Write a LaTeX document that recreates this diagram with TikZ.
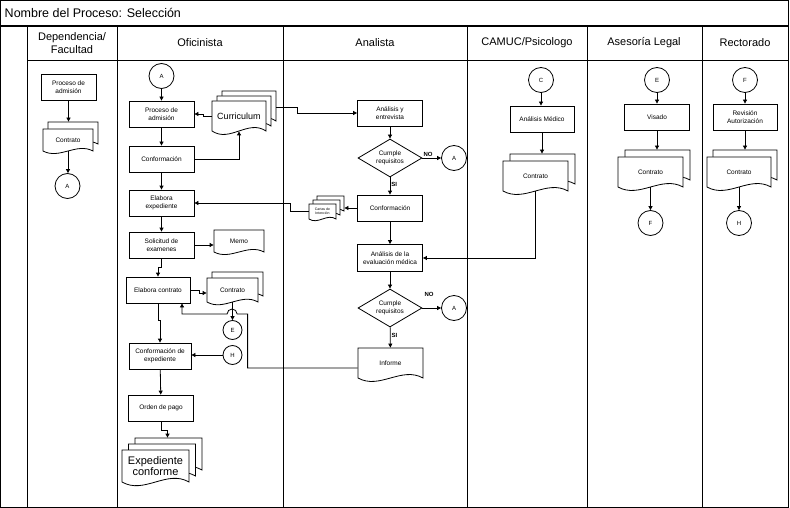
\documentclass[tikz,border=0pt]{standalone}
\usepackage{fontspec}
\setmainfont{Liberation Sans}
\usetikzlibrary{shapes.geometric, arrows.meta, calc, positioning}

% document symbol: left, top, width, height
\newcommand{\docshape}[4]{%
  \draw[fill=white] ({#1},{#2}) -- ({#1+#3},{#2}) -- ({#1+#3},{#2+#4})
    .. controls ({#1+0.67*#3},{#2+0.6*#4}) and ({#1+0.33*#3},{#2+1.4*#4}) .. ({#1},{#2+#4}) -- cycle;}

\begin{document}
\begin{tikzpicture}[x=1pt, y=-1pt, line width=0.8pt,
  box/.style={rectangle, draw, fill=white, minimum width=65pt, minimum height=26pt, inner sep=1pt, align=center, font=\fontsize{6.5}{7.5}\selectfont},
  dtext/.style={rectangle, inner sep=0pt, align=center, font=\fontsize{6.5}{7.5}\selectfont},
  conn/.style={circle, draw, fill=white, minimum size=25pt, inner sep=0pt, font=\fontsize{6}{7}\selectfont},
  dec/.style={diamond, draw, fill=white, aspect=1.7, inner sep=0.5pt, minimum width=64pt, minimum height=38pt, align=center, font=\fontsize{6.5}{7.5}\selectfont},
  lbl/.style={inner sep=1pt, font=\fontsize{6}{7}\selectfont\bfseries},
  head/.style={align=center, font=\fontsize{11}{13}\selectfont},
  arr/.style={-{Triangle[length=4pt,width=4pt]}}]
\useasboundingbox (0,0) rectangle (790,508);
%frame and lanes
\draw (0.5,0.5) rectangle (788,507);
\draw[line width=2pt] (0.5,26) -- (788,26);
\foreach \lx in {27,117,283,467,587,702} \draw (\lx,26) -- (\lx,507);
\draw (27,60) -- (788,60);
\node[anchor=west, font=\fontsize{12.5}{14}\selectfont] (title) at (1,13) {Nombre del Proceso: Selección};
\node[head] (hdep) at (72,43) {Dependencia/\\Facultad};
\node[head] (hofi) at (200,43) {Oficinista};
\node[head] (hana) at (375,43) {Analista};
\node[head] (hcam) at (527,43) {CAMUC/Psicologo};
\node[head] (hase) at (644,43) {Asesoría Legal};
\node[head] (hrec) at (745,43) {Rectorado};
%Dependencia
\node[box, minimum width=55pt] (adm0) at (68.5,87) {Proceso de\\admisión};
\foreach \k in {1,0} {\docshape{43+5*\k}{129-7*\k}{50}{22}}
\node[dtext, minimum width=50pt, minimum height=22pt] (ctr0) at (68,140) {Contrato};
\node[conn] (a0) at (67.5,186) {A};
%Oficinista
\node[conn] (a1) at (161.5,76) {A};
\node[box] (adm1) at (161.5,114) {Proceso de\\admisión};
\foreach \k in {2,1,0} {\docshape{212+5*\k}{101-5*\k}{54}{30}}
\node[dtext, minimum width=54pt, minimum height=30pt, font=\fontsize{9}{10}\selectfont] (cur) at (239,116) {Curriculum};
\node[box] (conf1) at (161.5,159) {Conformación};
\node[box] (elab) at (161.5,203) {Elabora\\expediente};
\node[box] (sol) at (161.5,245) {Solicitud de\\examenes};
\docshape{214}{230}{50}{22}
\node[dtext, minimum width=50pt, minimum height=22pt] (memo) at (239,241) {Memo};
\node[box, minimum width=64pt] (econ) at (158,290) {Elabora contrato};
\foreach \k in {1,0} {\docshape{207+5*\k}{278-6*\k}{51}{24}}
\node[dtext, minimum width=51pt, minimum height=24pt] (ctr1) at (232.5,290) {Contrato};
\node[conn, minimum size=19pt] (e1) at (232.5,330) {E};
\node[conn, minimum size=19pt] (h1) at (232.5,355) {H};
\node[box, minimum width=62pt] (cexp) at (160,356) {Conformación de\\expediente};
\node[box] (pago) at (161,408) {Orden de pago};
\foreach \k in {2,1,0} {\docshape{122+6.5*\k}{450-6*\k}{67}{32}}
\node[dtext, minimum width=67pt, minimum height=32pt, font=\fontsize{11}{11}\selectfont] (exped) at (155.5,466) {Expediente\\conforme};
%Analista
\node[box] (ae) at (390,113) {Análisis y\\entrevista};
\node[dec] (d1) at (390,158) {Cumple\\requisitos};
\node[conn] (a2) at (454,158) {A};
\node[box] (conf2) at (390,208) {Conformación};
\foreach \k in {2,1,0} {\docshape{309+4*\k}{204-4*\k}{27}{15}}
\node[dtext, minimum width=27pt, minimum height=15pt, font=\fontsize{3.5}{4}\selectfont] (cart) at (322.5,211.5) {Cartas de\\Intención};
\node[box, minimum height=27pt] (aem) at (390,258) {Análisis de la\\evaluación médica};
\node[dec] (d2) at (390,308) {Cumple\\requisitos};
\node[conn] (a3) at (454,308) {A};
\node[lbl] (no2) at (429,294) {NO};
\docshape{358}{348}{65}{30}
\node[dtext, minimum width=65pt, minimum height=30pt] (inf) at (390.5,363) {Informe};
%CAMUC
\node[conn] (c1) at (541,80) {C};
\node[box, minimum width=64pt] (am) at (542,119) {Análisis Médico};
\foreach \k in {1,0} {\docshape{503+7*\k}{161-7*\k}{65}{30}}
\node[dtext, minimum width=65pt, minimum height=30pt] (ctr2) at (535.5,176) {Contrato};
%Asesoria
\node[conn] (e2) at (657,80) {E};
\node[box] (vis) at (657,117) {Visado};
\foreach \k in {1,0} {\docshape{618+7*\k}{157-7*\k}{65}{30}}
\node[dtext, minimum width=65pt, minimum height=30pt] (ctr3) at (650.5,172) {Contrato};
\node[conn] (f1) at (650.5,223) {F};
%Rectorado
\node[conn] (f2) at (745,80) {F};
\node[box, minimum width=64pt] (rev) at (745,117) {Revisión\\Autorización};
\foreach \k in {1,0} {\docshape{707+6*\k}{157-7*\k}{64}{30}}
\node[dtext, minimum width=64pt, minimum height=30pt] (ctr4) at (739,172) {Contrato};
\node[conn] (h2) at (739,223) {H};
%connectors
\draw[arr] (adm0) -- ($(adm0.south |- ctr0.north)+(0,-7)$);
\draw[arr] (ctr0.south) -- (ctr0.south |- a0.north);
\draw[arr] (a1) -- (adm1);
\draw[arr] (cur.west) -- ++(-8,0) |- (adm1.east);
\draw[arr] (adm1) -- (conf1);
\draw[arr] (conf1.east) -| (cur.south);
\draw[arr] ([shift={(10pt,9pt)}]cur.east) -- ++(21,0) |- (ae.west);
\draw[arr] (conf1) -- (elab);
\draw[arr] (elab) -- (sol);
\draw[arr] (sol.east) -- (sol.east -| memo.west);
\draw[arr] (sol.south) -- ++(0,9) -| (econ.north);
\draw[arr] (econ.east) -- ++(9,0) |- ([yshift=-3pt]ctr1.west);
\draw[arr] (ctr1.south) -- (e1);
\draw[arr] (h1) -- (h1 -| cexp.east);
\draw[arr] (econ.south) -- ++(0,17) -| (cexp.north);
\draw[arr] ([yshift=-5pt]inf.west) -- ++(-110,0) -- ++(0,-54) -- ++(-10.5,0) arc[start angle=0, end angle=-180, radius=5] -| ([xshift=24pt]econ.south);
\draw[arr] (cexp) -- (pago);
\draw[arr] (pago.south) -- ++(0,9) -| ([shift={(12pt,12pt)}]exped.north);
\draw[arr] (ae) -- (d1);
\draw[arr] (d1) -- node[lbl, above, pos=0.3] (no1) {NO} (a2);
\draw[arr] (d1) -- node[lbl, right, pos=0.4] (si1) {SI} (conf2);
\draw[arr] (conf2) -- (aem);
\draw[arr] (conf2.west) -- ($(conf2.west -| cart.east)+(8,0)$);
\draw[arr] (cart.west) -- ++(-18,0) |- (elab.east);
\draw[arr] (ctr2.south) |- (aem.east);
\draw[arr] (aem) -- (d2);
\draw[arr] (d2) -- (a3);
\draw[arr] (d2) -- node[lbl, right, pos=0.4] (si2) {SI} (inf);
\draw[arr] (c1) -- (c1 |- am.north);
\draw[arr] (am.south) -- ($(am.south |- ctr2.north)+(0,-7)$);
\draw[arr] (e2) -- (vis);
\draw[arr] (vis.south) -- ($(vis.south |- ctr3.north)+(0,-7)$);
\draw[arr] (ctr3.south) -- (f1);
\draw[arr] (f2) -- (rev);
\draw[arr] (rev.south) -- ($(rev.south |- ctr4.north)+(0,-7)$);
\draw[arr] (ctr4.south) -- (h2);
\end{tikzpicture}
\end{document}
